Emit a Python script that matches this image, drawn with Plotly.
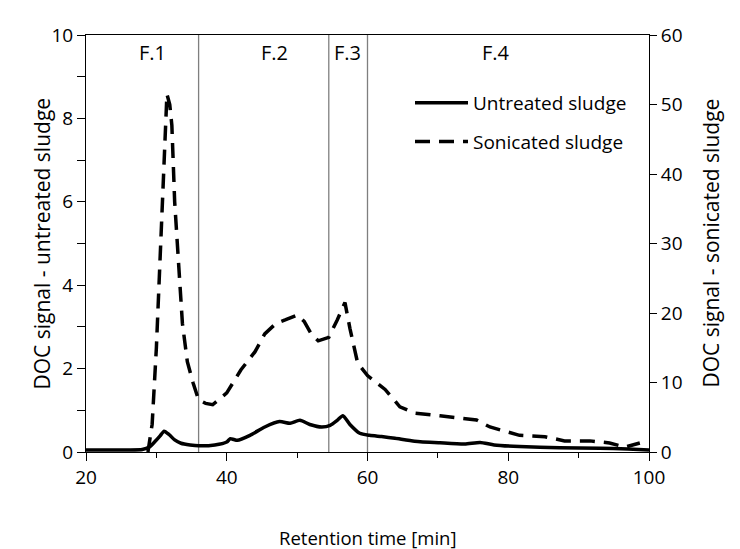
import plotly.graph_objects as go

# Data
untreated_x = [20, 22, 24, 26, 28, 29, 29.8, 30.5, 31.1, 31.8, 32.6, 33.5, 34.8, 36, 38.3, 40, 40.5, 41,
               41.5, 43.3, 45.4, 47.5, 49, 50.4, 51.8, 53.5, 54.7, 55.7, 56.5, 57.5, 58.9, 60.3, 62,
               63.9, 66.7, 70.3, 73.8, 76, 78, 81.6, 87.3, 93, 97, 100]
untreated_y = [0.05, 0.05, 0.05, 0.05, 0.06, 0.12, 0.25, 0.38, 0.5, 0.42, 0.29, 0.21, 0.17, 0.15, 0.17,
               0.24, 0.32, 0.3, 0.28, 0.4, 0.6, 0.73, 0.69, 0.76, 0.66, 0.6, 0.64, 0.76, 0.87, 0.66,
               0.45, 0.4, 0.37, 0.33, 0.26, 0.22, 0.19, 0.23, 0.17, 0.13, 0.1, 0.09, 0.07, 0.05]

sonicated_x = [28.8, 29.4, 30.0, 30.5, 30.9, 31.2, 31.5, 31.9, 32.2, 32.6, 33.0, 33.4, 33.7, 34.4, 35.2,
               36, 37, 38, 40, 42, 44, 45.4, 47, 48.3, 50, 51, 52, 53, 54.5, 55.7, 56.8, 57.5, 58.6,
               60, 61.3, 62.5, 64.6, 66.7, 70.3, 72, 74.5, 75.5, 77.4, 78.8, 81.6, 85.2, 88, 90.2,
               91.6, 94.4, 96.6, 98.7]
sonicated_y = [0, 4, 15, 28, 39, 45, 51.5, 50, 47, 36, 30, 24, 18.5, 13, 10,
               7.5, 7, 6.8, 8.5, 11.8, 14.4, 17, 18.5, 19, 19.7, 18.8, 17, 16, 16.5, 19, 21.5, 17.8, 12.8,
               11, 10, 9, 6.5, 5.6, 5.2, 5, 4.7, 4.6, 3.6, 3.2, 2.4, 2.2, 1.6, 1.6,
               1.6, 1.3, 0.7, 1.3]

fraction_bounds = [36, 54.5, 60]
fraction_labels = ["F.1", "F.2", "F.3", "F.4"]
fraction_label_x = [29.4, 46.8, 57.2, 78.2]

series_names = ["Untreated sludge", "Sonicated sludge"]
x_title = "Retention time [min]"
y_title = "DOC signal - untreated sludge"
y2_title = "DOC signal - sonicated sludge"

FONT = "Open Sans"
W, H = 740, 549
ml, mr, mt, mb = 86, 91, 35, 97
pw = W - ml - mr
ph = H - mt - mb

fig = go.Figure()
fig.add_trace(go.Scatter(x=untreated_x, y=untreated_y, mode="lines", name=series_names[0],
                         line=dict(color="black", width=3.5, shape="spline", smoothing=0.6),
                         legendgroup="a", yaxis="y"))
fig.add_trace(go.Scatter(x=sonicated_x, y=sonicated_y, mode="lines", name=series_names[1],
                         line=dict(color="black", width=3.5, dash="15px,9px"),
                         legendgroup="b", yaxis="y2"))

for b in fraction_bounds:
    fig.add_shape(type="line", xref="x", yref="paper", x0=b, x1=b, y0=0, y1=1,
                  line=dict(color="#7f7f7f", width=1.3), layer="below")

for lab, lx in zip(fraction_labels, fraction_label_x):
    fig.add_annotation(x=lx, y=1, xref="x", yref="paper", yanchor="top", yshift=-2,
                       text=lab, showarrow=False, font=dict(family=FONT, size=20, color="black"))

# axis titles
fig.add_annotation(x=0.5, y=-(537 - mt - ph) / ph, xref="paper", yref="paper", text=x_title,
                   showarrow=False, yanchor="middle", font=dict(family=FONT, size=18.5, color="black"))
fig.add_annotation(x=(25 - ml) / pw, y=0.5, xref="paper", yref="paper",
                   text=y_title, textangle=-90, showarrow=False,
                   font=dict(family=FONT, size=21, color="black"))
fig.add_annotation(x=(726 - ml) / pw, y=0.5, xref="paper", yref="paper",
                   text=y2_title, textangle=-90, showarrow=False,
                   font=dict(family=FONT, size=21, color="black"))

fig.update_layout(
    width=W, height=H,
    margin=dict(l=ml, r=mr, t=mt, b=mb, autoexpand=False),
    paper_bgcolor="white", plot_bgcolor="white",
    font=dict(family=FONT, size=19, color="black"),
    showlegend=True,
    legend=dict(x=(410 - ml) / pw, y=1 - (84 - mt) / ph, xanchor="left", yanchor="top",
                bgcolor="rgba(0,0,0,0)", font=dict(family=FONT, size=19), tracegroupgap=11,
                itemwidth=53),
    xaxis=dict(range=[20, 100], tickmode="linear", tick0=20, dtick=20, ticks="outside", ticklen=8,
               tickcolor="black", showline=True, linecolor="black", linewidth=1, mirror=True,
               showgrid=False, zeroline=False, tickfont=dict(size=19),
               minor=dict(ticks="outside", dtick=10, ticklen=5, tickcolor="black", showgrid=False)),
    yaxis=dict(range=[0, 10], tickmode="linear", tick0=0, dtick=2, ticks="outside", ticklen=8,
               tickcolor="black", showline=True, linecolor="black", linewidth=1,
               showgrid=False, zeroline=False, tickfont=dict(size=19),
               minor=dict(ticks="outside", dtick=1, ticklen=8, tickcolor="black", showgrid=False)),
    yaxis2=dict(range=[0, 60], tickmode="linear", tick0=0, dtick=10, overlaying="y", side="right",
                ticks="outside", ticklen=7, tickcolor="black", showline=True, linecolor="black",
                linewidth=1, showgrid=False, zeroline=False, tickfont=dict(size=19)),
)

fig.write_html("out.html", config={"displayModeBar": False},
               post_script="document.body.style.margin='0';")
